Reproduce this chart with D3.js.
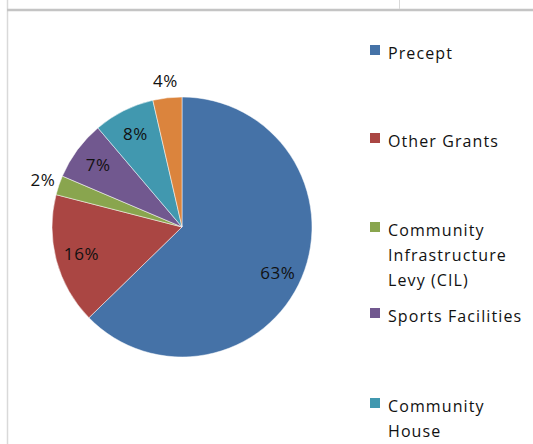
<!DOCTYPE html>
<html>
<head>
<meta charset="utf-8">
<script src="https://cdn.jsdelivr.net/npm/d3@7"></script>
<style>
  body { margin: 0; background: #fff; }
  svg { display: block; }
</style>
</head>
<body>
<div id="chart"></div>
<script>
// chart values
const categories = ["Precept", "Other Grants", "Community Infrastructure Levy (CIL)", "Sports Facilities", "Community House", "Other Income"]
const values = [62.7, 16.3, 2.4, 7.4, 7.6, 3.6]
// legend text as wrapped in the picture (the last entry falls below the visible area)
const legendLines = [["Precept"], ["Other Grants"], ["Community", "Infrastructure", "Levy (CIL)"], ["Sports Facilities"], ["Community", "House"]]
const legendRows = [54, 142, 231, 317, 407]

const width = 533
const height = 444
const cx = 182, cy = 227, radius = 130

const color = d3.scaleOrdinal()
    .domain(categories)
    .range(["#4572A7", "#AA4643", "#89A54E", "#71588F", "#4198AF", "#DB843D"])

const svg = d3.select("#chart")
  .append("svg")
    .attr("width", width)
    .attr("height", height)

// spreadsheet frame lines
svg.append("line").attr("x1", 7.5).attr("x2", 7.5).attr("y1", 0).attr("y2", height)
    .attr("stroke", "#d9d9d9").attr("stroke-width", 1.5)
svg.append("line").attr("x1", 7).attr("x2", width).attr("y1", 10).attr("y2", 10)
    .attr("stroke", "#c4c4c4").attr("stroke-width", 2.5)
svg.append("line").attr("x1", 399.5).attr("x2", 399.5).attr("y1", 0).attr("y2", 9)
    .attr("stroke", "#d9d9d9").attr("stroke-width", 1)

const data = categories.map((c, i) => ({ name: c, value: values[i] }))

const pie = d3.pie().sort(null).value(d => d.value)
const arcs = pie(data)
const arc = d3.arc().innerRadius(0).outerRadius(radius)
const labelArc = d3.arc().innerRadius(radius * 0.8).outerRadius(radius * 0.8)
const outerArc = d3.arc().innerRadius(radius * 1.13).outerRadius(radius * 1.13)

const g = svg.append("g").attr("transform", `translate(${cx},${cy})`)

g.selectAll("path")
  .data(arcs)
  .join("path")
    .attr("d", arc)
    .attr("fill", d => color(d.data.name))
    .attr("stroke", "#fff")
    .attr("stroke-width", 0.5)

// small slices get their label outside
g.selectAll("text")
  .data(arcs)
  .join("text")
    .attr("transform", d => {
        const p = d.data.value < 5 ? outerArc.centroid(d) : labelArc.centroid(d)
        if (d.index == 0) p[1] += 6
        return `translate(${p})`
    })
    .attr("text-anchor", "middle")
    .attr("dy", "0.35em")
    .style("font-family", "'Open Sans', sans-serif")
    .style("font-size", "17px")
    .style("letter-spacing", "0.6px")
    .attr("fill", "#111")
    .text(d => Math.round(d.data.value) + "%")

// legend
const legend = svg.append("g")
  .selectAll("g")
  .data(data.slice(0, legendRows.length))
  .join("g")
    .attr("transform", (d, i) => `translate(370,${legendRows[i]})`)

legend.append("rect")
    .attr("x", 0).attr("y", -9)
    .attr("width", 10).attr("height", 10)
    .attr("fill", d => color(d.name))

legend.append("text")
    .style("font-family", "'Open Sans', sans-serif")
    .style("font-size", "16px")
    .style("letter-spacing", "1.1px")
    .attr("fill", "#111")
  .selectAll("tspan")
  .data((d, i) => legendLines[i])
  .join("tspan")
    .attr("x", 18)
    .attr("y", (d, j) => j * 25 + 5)
    .text(d => d)
</script>
</body>
</html>
